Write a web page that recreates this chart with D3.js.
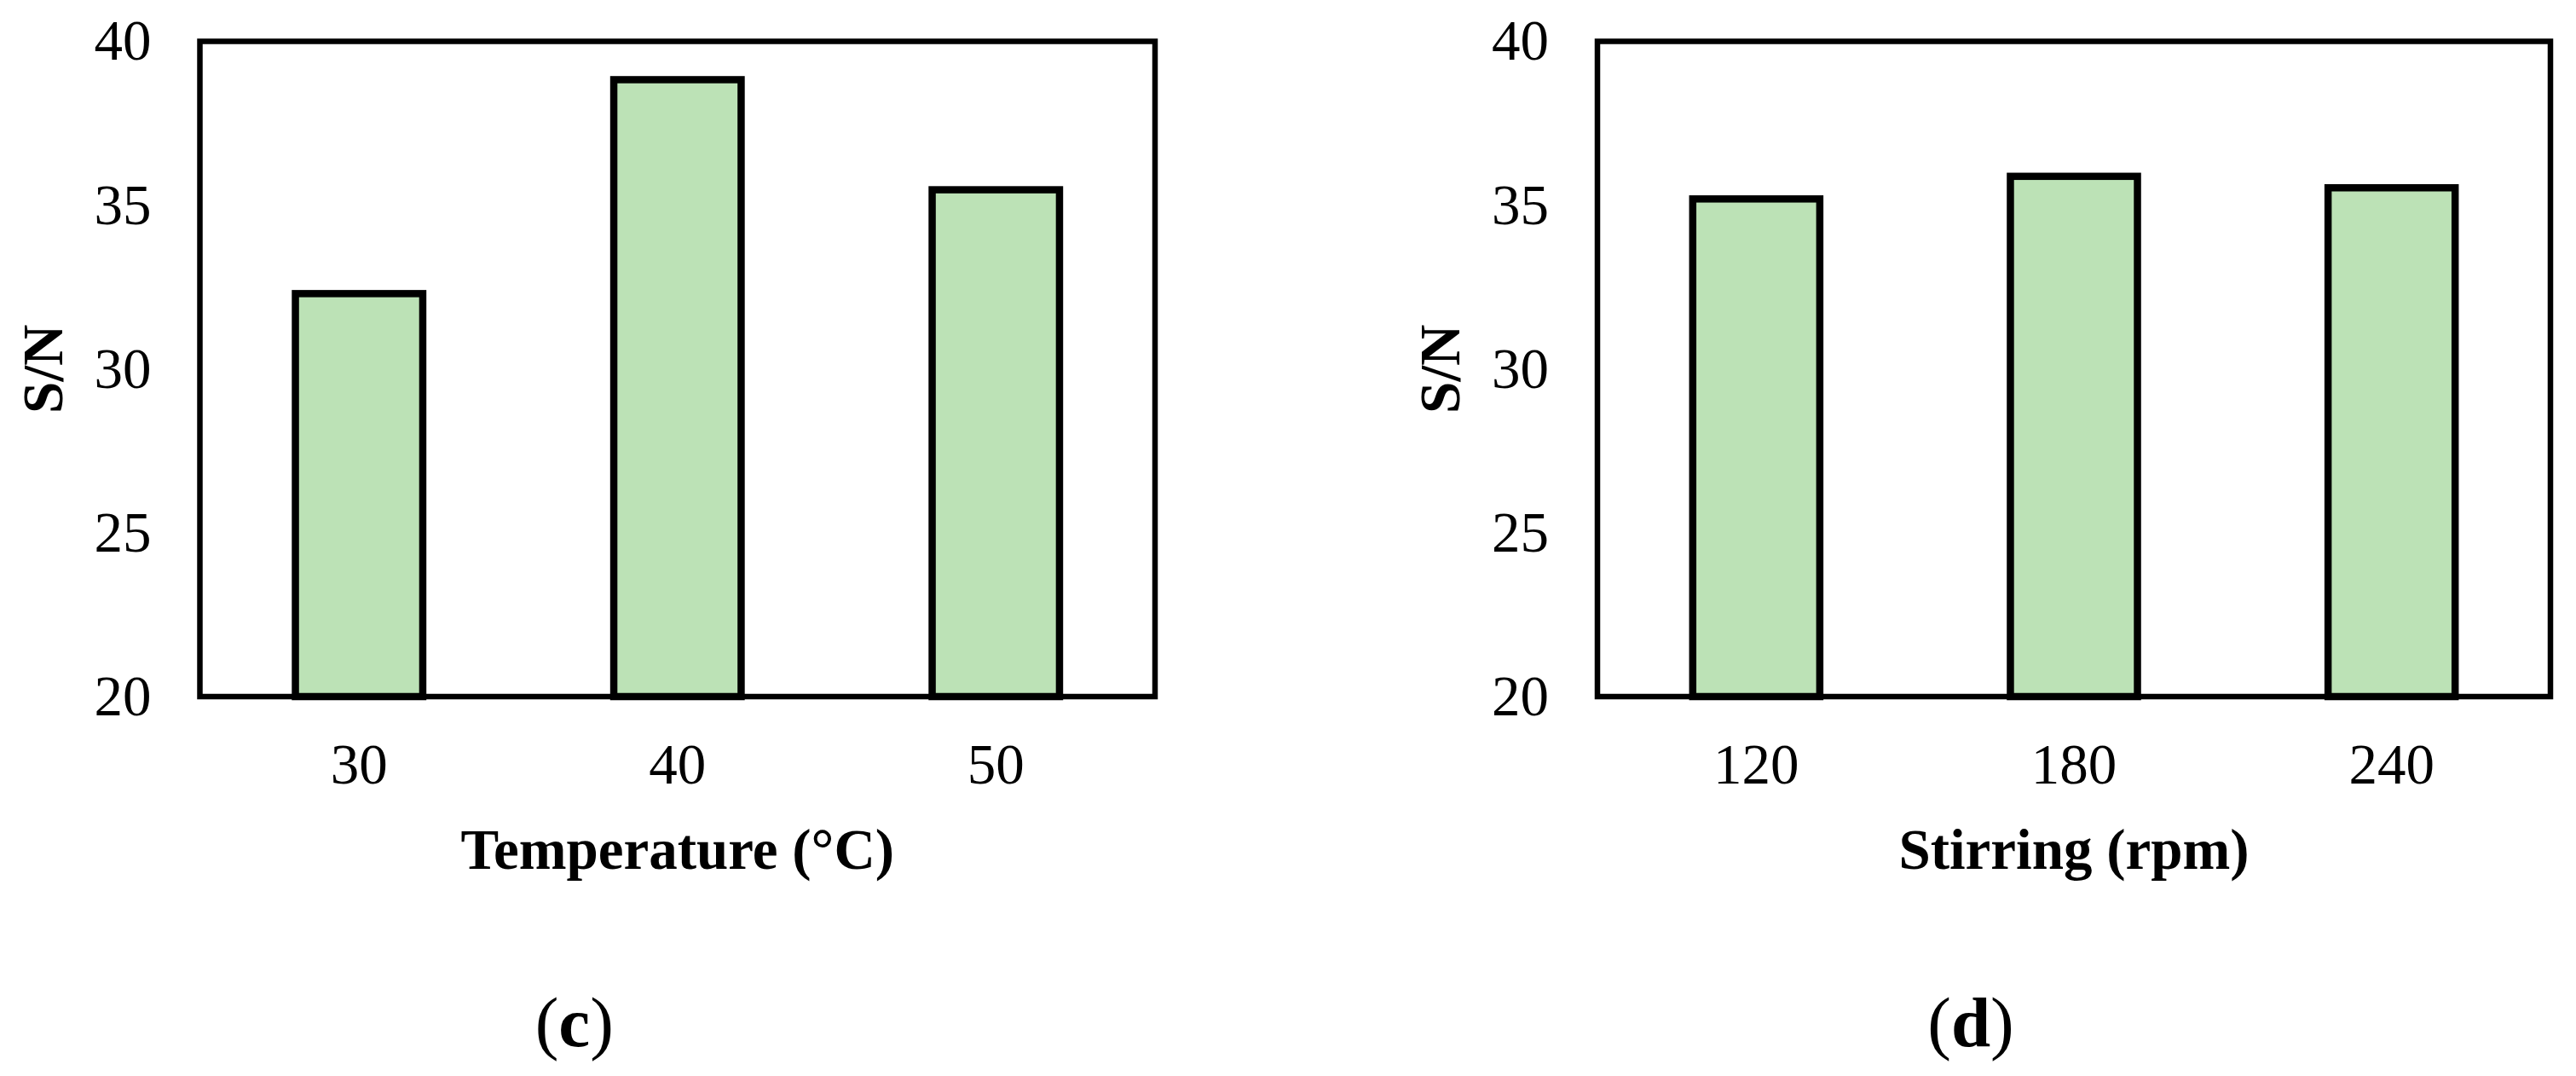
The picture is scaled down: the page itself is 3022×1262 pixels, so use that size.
<!DOCTYPE html>
<html>
<head>
<meta charset="utf-8">
<script src="https://cdn.jsdelivr.net/npm/d3@7"></script>
<style>
  body { margin: 0; background: #fff; }
  svg { display: block; }
</style>
</head>
<body>
<div id="chart"></div>
<script>
// S/N ratio for each factor level
const tempLevels = ["30", "40", "50"];
const tempSN = [32.3, 38.83, 35.47];
const stirLevels = ["120", "180", "240"];
const stirSN = [35.19, 35.88, 35.53];
const yTicks = [20, 25, 30, 35, 40];

const width = 3022, height = 1262;
const plotTop = 48.5, plotBottom = 817;

const svg = d3.select("#chart").append("svg")
              .attr("width", width)
              .attr("height", height)
              .style("font-family", "'Liberation Serif', 'Times New Roman', serif");

svg.append("rect").attr("width", width).attr("height", height).attr("fill", "#fff");

function drawPanel(left, right, levels, values, xTitle, letter) {
    const g = svg.append("g");

    const x = d3.scaleBand()
                .domain(levels)
                .range([left, right])
                .paddingInner(0.6)
                .paddingOuter(0.3);

    const y = d3.scaleLinear()
                .domain([20, 40])
                .range([plotBottom, plotTop]);

    // bars
    g.selectAll("rect.bar")
     .data(levels.map((d, i) => ({ level: d, value: values[i] })))
     .enter()
     .append("rect")
     .attr("class", "bar")
     .attr("x", d => x(d.level))
     .attr("y", d => y(d.value))
     .attr("width", x.bandwidth())
     .attr("height", d => y(20) - y(d.value))
     .attr("fill", "#bce2b6")
     .attr("stroke", "#000")
     .attr("stroke-width", 8.5);

    // plot frame
    g.append("rect")
     .attr("x", left)
     .attr("y", plotTop)
     .attr("width", right - left)
     .attr("height", plotBottom - plotTop)
     .attr("fill", "none")
     .attr("stroke", "#000")
     .attr("stroke-width", 6.5);

    // y axis
    const yAxis = g.append("g")
       .attr("transform", `translate(${left}, 0)`)
       .call(d3.axisLeft(y).tickValues(yTicks).tickSize(0).tickPadding(57));
    yAxis.select(".domain").remove();
    yAxis.selectAll("text")
         .attr("font-family", "'Liberation Serif', serif")
         .attr("font-size", 67)
         .attr("fill", "#000");

    // x axis
    const xAxis = g.append("g")
       .attr("transform", `translate(0, ${plotBottom})`)
       .call(d3.axisBottom(x).tickSize(0).tickPadding(54));
    xAxis.select(".domain").remove();
    xAxis.selectAll("text")
         .attr("font-family", "'Liberation Serif', serif")
         .attr("font-size", 67)
         .attr("fill", "#000");

    const mid = (left + right) / 2;

    g.append("text")
     .attr("x", mid)
     .attr("y", 1019)
     .attr("font-size", 67)
     .attr("font-weight", "bold")
     .style("text-anchor", "middle")
     .text(xTitle);

    g.append("text")
     .attr("transform", `translate(${left - 162}, ${(plotTop + plotBottom) / 2}) rotate(-90)`)
     .attr("font-size", 67)
     .attr("font-weight", "bold")
     .style("text-anchor", "middle")
     .text("S/N");

    const lab = g.append("text")
     .attr("x", mid - 121)
     .attr("y", 1227)
     .attr("font-size", 83)
     .style("text-anchor", "middle");
    lab.append("tspan").text("(");
    lab.append("tspan").attr("font-weight", "bold").text(letter);
    lab.append("tspan").text(")");
}

drawPanel(234.5, 1355, tempLevels, tempSN, "Temperature (°C)", "c");
drawPanel(1874, 2992, stirLevels, stirSN, "Stirring (rpm)", "d");
</script>
</body>
</html>
